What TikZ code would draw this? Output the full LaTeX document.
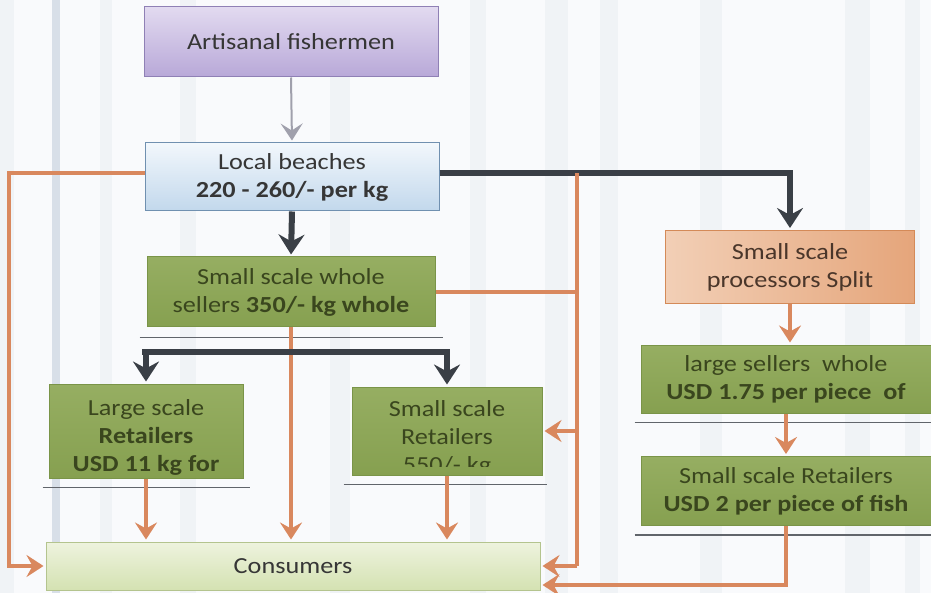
\documentclass[tikz,border=0pt]{standalone}
\usepackage{fontspec}
\setmainfont[FakeStretch=1.14]{Carlito}
\usetikzlibrary{arrows.meta,calc}
\definecolor{bgA}{HTML}{F9FAFC}
\definecolor{bgB}{HTML}{F0F3F6}
\definecolor{bgC}{HTML}{D8DFE8}
\definecolor{purT}{HTML}{E2DAF0}
\definecolor{purB}{HTML}{B8A8D8}
\definecolor{purD}{HTML}{8F80B5}
\definecolor{bluT}{HTML}{F2F7FC}
\definecolor{bluB}{HTML}{C2D8EC}
\definecolor{bluD}{HTML}{7090B0}
\definecolor{grnT}{HTML}{96AE62}
\definecolor{grnB}{HTML}{86A050}
\definecolor{grnD}{HTML}{7A9448}
\definecolor{oraT}{HTML}{F2CFB6}
\definecolor{oraB}{HTML}{E29B6C}
\definecolor{oraD}{HTML}{D48A58}
\definecolor{conT}{HTML}{EEF3DE}
\definecolor{conB}{HTML}{D4E2B2}
\definecolor{conD}{HTML}{B4C48E}
\definecolor{oline}{HTML}{D9885E}
\definecolor{dline}{HTML}{3A3F46}
\definecolor{gline}{HTML}{A0A0AC}
\definecolor{txtG}{HTML}{3A461E}
\definecolor{txtK}{HTML}{363636}
\definecolor{txtO}{HTML}{4A362A}
\tikzset{
  boxbase/.style={rectangle, inner sep=0pt, align=center, draw, line width=1pt,
    font=\fontsize{23}{28}\selectfont},
  purbox/.style={boxbase, top color=purT, bottom color=purB, draw=purD, text=txtK},
  blubox/.style={boxbase, top color=bluT, bottom color=bluB, draw=bluD, text=txtK},
  grnbox/.style={boxbase, top color=grnT, bottom color=grnB, draw=grnD, text=txtG},
  orabox/.style={boxbase, left color=oraT, right color=oraB!80!oraT, draw=oraD, text=txtO},
  conbox/.style={boxbase, top color=conT, bottom color=conB, draw=conD, text=txtK},
  boxtext/.style={inner sep=0pt, align=center, font=\fontsize{23}{28}\selectfont, text=txtG},
  orarrow/.style={draw=oline, line width=4pt, shorten >=2pt, -{Stealth[width=22pt,length=17pt,inset=6pt]}},
  oraline/.style={draw=oline, line width=4pt},
  darrow/.style={draw=dline, line width=6pt, shorten >=2pt, -{Stealth[width=26pt,length=20pt,inset=7pt]}},
  dkline/.style={draw=dline, line width=6pt},
  grarrow/.style={draw=gline, line width=2pt, shorten >=2pt, -{Stealth[width=22pt,length=17pt,inset=7pt]}},
  uline/.style={draw=dline!80, line width=1.6pt}
}
\begin{document}
\begin{tikzpicture}[x=1pt,y=-1pt]
% background
\fill[bgA] (0,0) rectangle (931,593);
\foreach \a/\b/\c in {0/14/bgB,52/60/bgC,100/112/bgB,180/196/bgB,330/350/bgB,470/486/bgB,545/568/bgB,600/618/bgB,700/722/bgB,845/870/bgB,905/920/bgB}
  \fill[\c] (\a,0) rectangle (\b,593);
\useasboundingbox (0,0) rectangle (931,593);

% boxes
\node[purbox, minimum width=294pt, minimum height=70pt] (fisher) at (291,42) {Artisanal fishermen};
\node[blubox, minimum width=294pt, minimum height=68pt] (beach) at (292,177) {Local beaches\\\textbf{220 - 260/- per kg}};
\node[grnbox, minimum width=288pt, minimum height=70pt] (whole) at (291,292) {Small scale whole\\sellers \textbf{350/- kg whole}};
\node[grnbox, minimum width=194pt, minimum height=94pt] (lret) at (146,431) {};
\node[grnbox, minimum width=190pt, minimum height=88pt] (sret) at (447,431) {};
\node[conbox, minimum width=494pt, minimum height=48pt] (cons) at (293,566) {Consumers};
\node[orabox, minimum width=249pt, minimum height=73pt] (proc) at (790,267) {Small scale\\processors Split};
\node[grnbox, minimum width=290pt, minimum height=68pt] (lsell) at (786,379) {large sellers\ \ whole\\\textbf{USD 1.75 per piece\ \ of}};
\node[grnbox, minimum width=290pt, minimum height=69pt] (usd) at (786,491) {Small scale Retailers\\\textbf{USD 2 per piece of fish}};

% clipped texts
\begin{scope}
  \clip (lret.north west) rectangle ($(lret.south east)+(0,-4)$);
  \node[boxtext] (lrett) at (146,437) {Large scale\\\textbf{Retailers}\\\textbf{USD 11 kg for}};
\end{scope}
\begin{scope}
  \clip (sret.north west) rectangle ($(sret.south east)+(0,-9)$);
  \node[boxtext] (srett) at (447,438) {Small scale\\Retailers\\550/- kg};
\end{scope}

% underlines
\draw[uline] ($(whole.south west)+(-7,10)$) -- ($(whole.south east)+(7,10)$);
\draw[uline] ($(lret.south west)+(-6,9)$) -- ($(lret.south east)+(6,9)$);
\draw[uline] ($(sret.south west)+(-8,9)$) -- ($(sret.south east)+(4,9)$);
\draw[uline] ($(lsell.south west)+(-6,9)$) -- ($(lsell.south east)+(6,9)$);
\draw[uline] ($(usd.south west)+(-6,9)$) -- ($(usd.south east)+(6,9)$);

% connectors
\draw[grarrow] (fisher.south) -- (beach.north);
\draw[darrow] (beach.south) -- (whole.north);
\coordinate (lv) at (9,173);
\coordinate (rv) at (577,173);
\coordinate (bar) at (291,352);
\draw[orarrow] ([yshift=4pt]beach.west) -- (lv) |- (cons.west);
\draw[darrow] ([yshift=4pt]beach.east) -| (proc.north);
\draw[oraline] (rv) -- (rv |- cons.east);
\draw[orarrow] (rv |- cons.east) -- (cons.east);
\draw[orarrow] (rv |- sret.east) -- (sret.east);
\draw[oraline] (whole.east) -- (whole.east -| rv);
\draw[orarrow] (whole.south) -- (whole.south |- cons.north);
\draw[dkline] ($(bar -| lret.north)+(-4,0)$) -- ($(bar -| sret.north)+(3,0)$);
\draw[darrow] (bar -| lret.north) -- (lret.north);
\draw[darrow] (bar -| sret.north) -- (sret.north);
\draw[orarrow] (lret.south) -- (lret.south |- cons.north);
\draw[orarrow] (sret.south) -- (sret.south |- cons.north);
\draw[orarrow] (proc.south) -- (proc.south |- lsell.north);
\draw[orarrow] (lsell.south) -- (lsell.south |- usd.north);
\draw[orarrow] (usd.south) |- ([yshift=-19pt]cons.east);
\end{tikzpicture}
\end{document}
